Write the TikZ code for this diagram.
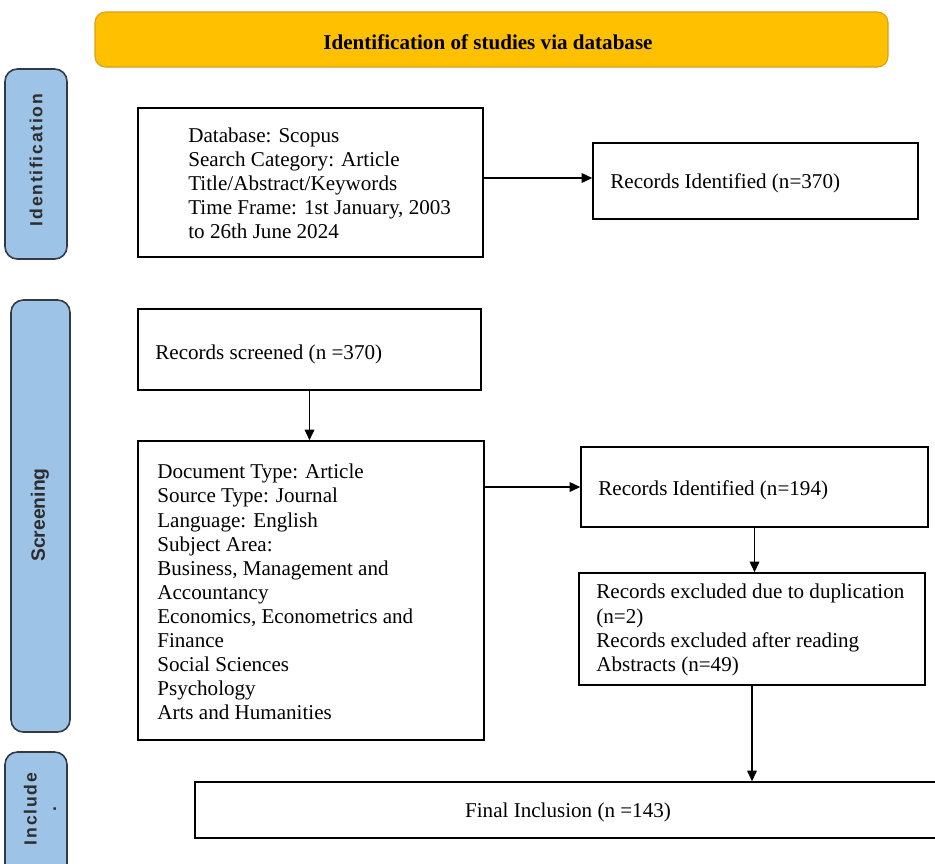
\documentclass[tikz,border=0pt]{standalone}
\usepackage{fontspec}
\setmainfont{Liberation Serif}
\newfontfamily\sidefont{Liberation Sans}
\usetikzlibrary{arrows.meta,fit}

\definecolor{bannerfill}{RGB}{255,192,0}
\definecolor{bannerline}{RGB}{214,160,20}
\definecolor{sidefill}{RGB}{157,195,230}
\definecolor{sideline}{RGB}{50,58,70}
\definecolor{sidetext}{RGB}{45,45,45}

\tikzset{
  box/.style={draw=black,line width=0.9pt,inner sep=0pt},
  boxtext/.style={anchor=west,align=left,inner sep=0pt,font=\fontsize{12}{13.7}\selectfont},
  side/.style={draw=sideline,fill=sidefill,line width=0.9pt,rounded corners=7pt,inner sep=0pt},
  sidelabel/.style={rotate=90,text=sidetext,align=center,font=\sidefont\bfseries\fontsize{10}{11}\selectfont},
  arr/.style={-{Triangle[length=6pt,width=5.5pt]},line width=0.7pt}
}

\begin{document}
\begin{tikzpicture}[x=0.02cm,y=-0.02cm]
 \useasboundingbox (0,0) rectangle (935,863);

  % banner
  \node[draw=bannerline,fill=bannerfill,line width=0.6pt,rounded corners=6pt,inner sep=0pt,
        fit={(95,12) (888,67)}] (banner) {};
  \node[font=\bfseries\fontsize{12}{14}\selectfont] (bannertext) at (488,42)
    {Identification of studies via database};

  % stage labels on the left
  \node[side,fit={(5,69) (67,259)}]   (sideid)   {};
  \node[sidelabel] (sideidtext) at (36,160)
    {\addfontfeature{LetterSpace=10}Identification};
  \node[side,fit={(11,300) (70,732)}] (sidescr)  {};
  \node[sidelabel,font=\sidefont\bfseries\fontsize{11}{12}\selectfont] (sidescrtext) at (40,515) {Screening};
  \node[side,fit={(5,752) (67,885)}]  (sideinc)  {};
  \node[sidelabel] (sideinctext) at (40,809)
    {\addfontfeature{LetterSpace=10}Include\\.};

  % boxes
  \node[box,fit={(138,108) (483,257)}] (db)    {};
  \node[box,fit={(593,143) (918,219)}] (recid) {};
  \node[box,fit={(138,309) (481,390)}] (scr)   {};
  \node[box,fit={(138,441) (484,740)}] (crit)  {};
  \node[box,fit={(581,447) (928,527)}] (recsel){};
  \node[box,fit={(579,573) (925,685)}] (excl)  {};
  \node[box,fit={(195,782) (941,838)}] (final) {};

  % texts in the boxes
  \node[boxtext] (dbtext) at (188,183)
    {Database: Scopus\\
     Search Category: Article\\
     Title/Abstract/Keywords\\
     Time Frame: 1st January, 2003\\
     to 26th June 2024};
  \node[boxtext] (recidtext)  at (610,183) {Records Identified (n=370)};
  \node[boxtext] (scrtext)    at (155,354) {Records screened (n =370)};
  \node[boxtext] (crittext)   at (157,592)
    {Document Type: Article\\
     Source Type: Journal\\
     Language: English\\
     Subject Area:\\
     Business, Management and\\
     Accountancy\\
     Economics, Econometrics and\\
     Finance\\
     Social Sciences\\
     Psychology\\
     Arts and Humanities};
  \node[boxtext] (recseltext) at (598,490) {Records Identified (n=194)};
  \node[boxtext] (excltext)   at (596,630)
    {Records excluded due to duplication\\
     (n=2)\\
     Records excluded after reading\\
     Abstracts (n=49)};
  \node[boxtext,anchor=center] (finaltext) at (568,812) {Final Inclusion (n =143)};

  % connectors
  \draw[arr] (db.east |- 0,178) -- (recid.west |- 0,178);
  \draw[arr] (scr.south) -- (scr.south |- crit.north);
  \draw[arr] (crit.east |- recsel.west) -- (recsel.west);
  \draw[arr] (recsel.south) -- (recsel.south |- excl.north);
  \draw[arr] (excl.south) -- (excl.south |- final.north);

\end{tikzpicture}
\end{document}
